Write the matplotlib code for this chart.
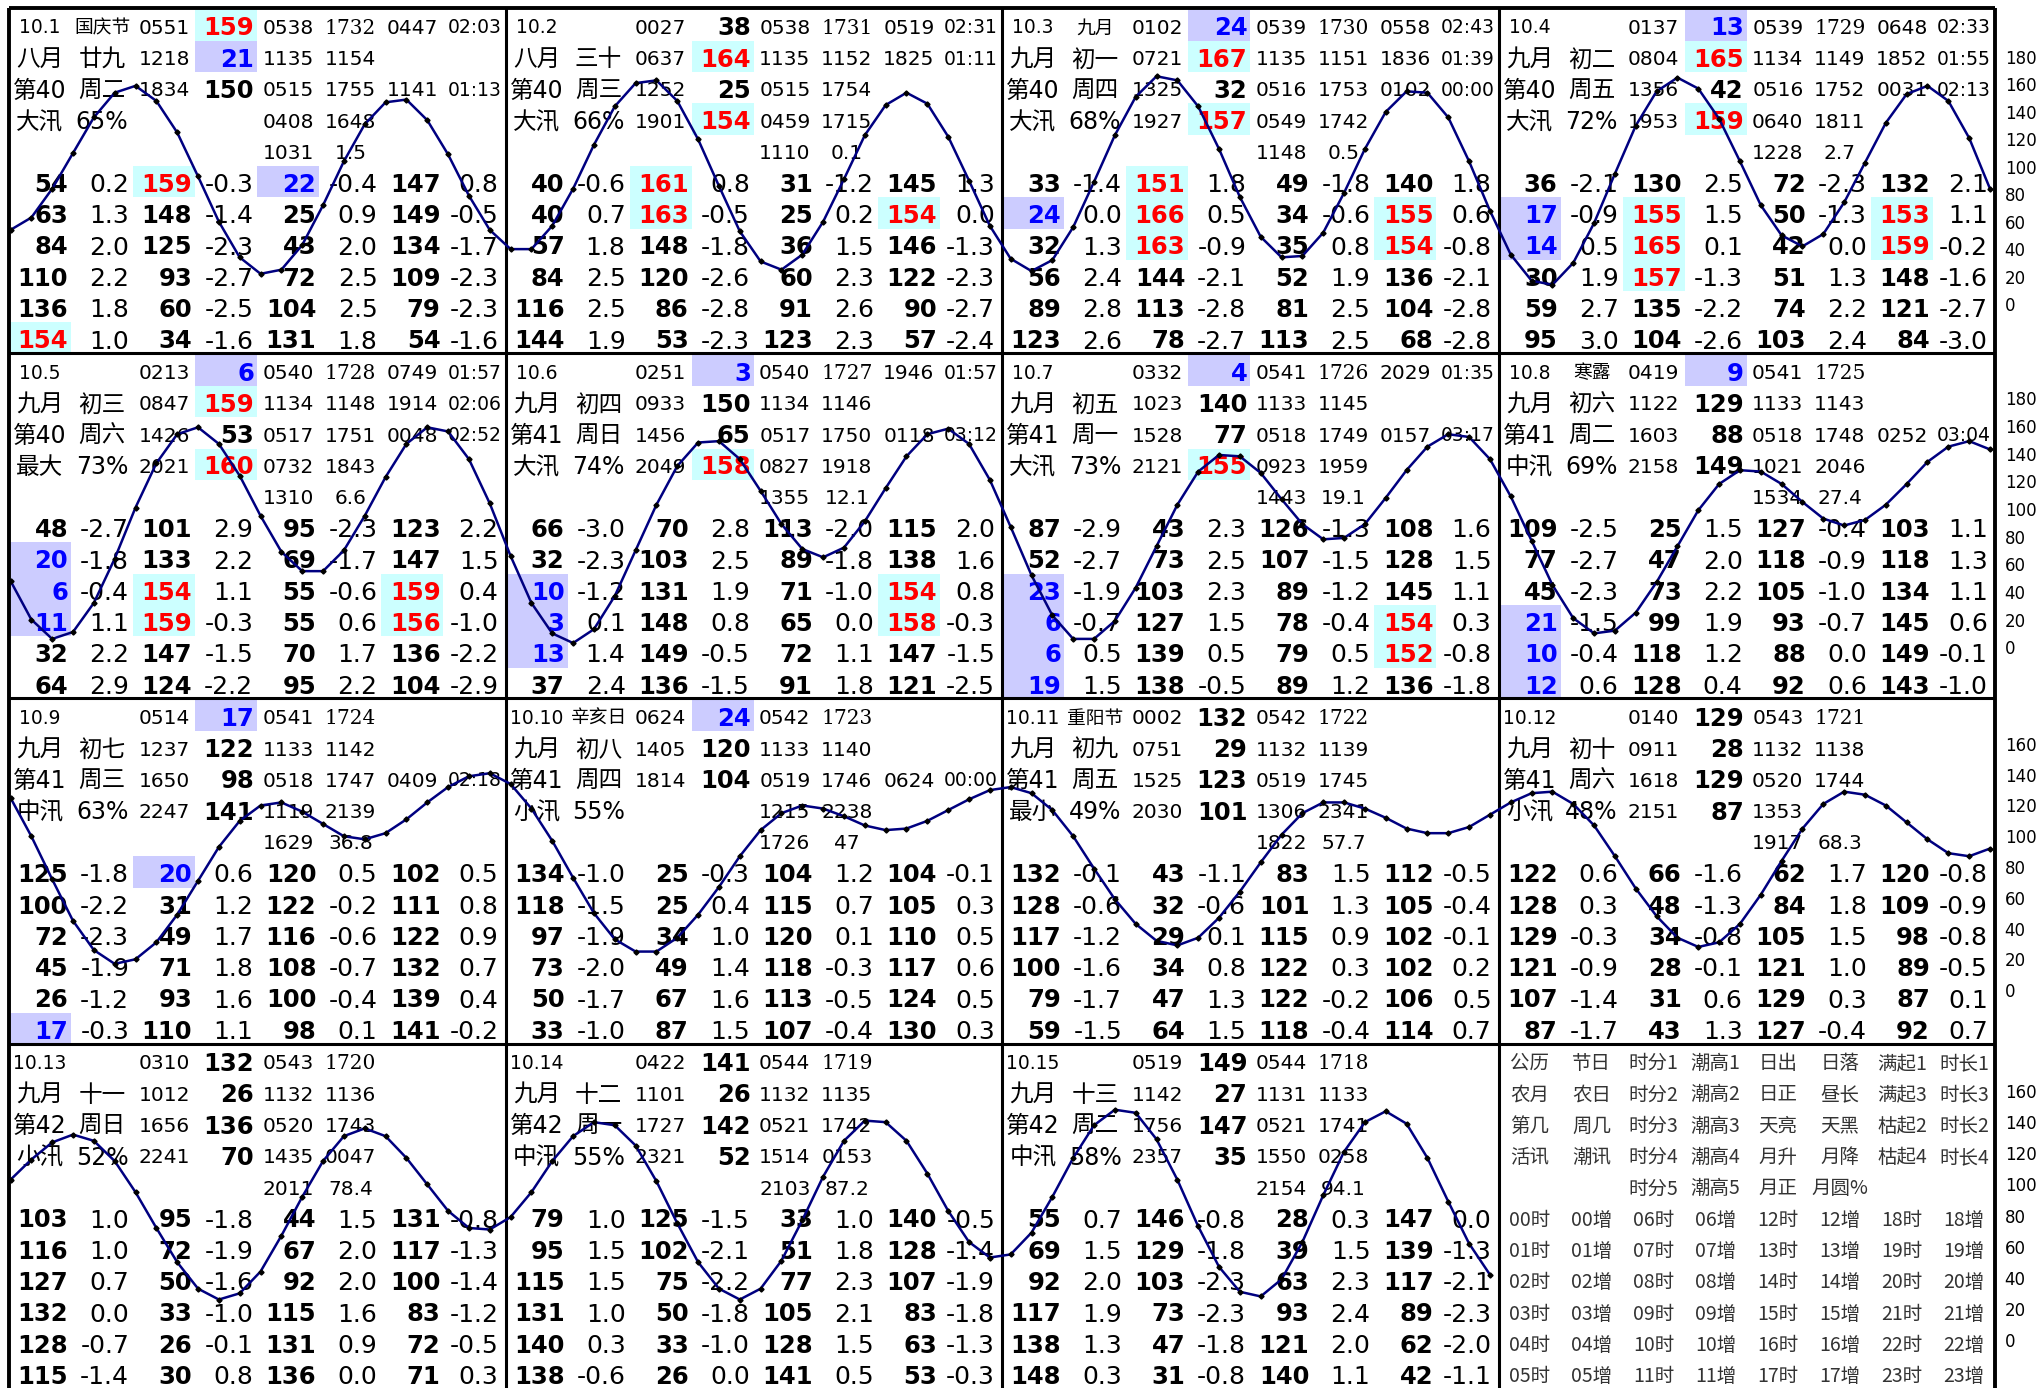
import matplotlib
matplotlib.use("Agg")
import matplotlib.pyplot as plt
from matplotlib.patches import Rectangle

# ---- day header fields (10.1 .. 10.15) ----
dates = ["10.1", "10.2", "10.3", "10.4", "10.5", "10.6", "10.7", "10.8",
         "10.9", "10.10", "10.11", "10.12", "10.13", "10.14", "10.15"]
festivals = ["国庆节", "", "九月", "", "", "", "", "寒露", "", "辛亥日", "重阳节", "", "", "", ""]
lunar_months = ["八月", "八月"] + ["九月"] * 13
lunar_days = ["廿九", "三十", "初一", "初二", "初三", "初四", "初五", "初六",
              "初七", "初八", "初九", "初十", "十一", "十二", "十三"]
weeks = ["第40"] * 5 + ["第41"] * 7 + ["第42"] * 3
weekdays = ["周二", "周三", "周四", "周五", "周六", "周日", "周一", "周二",
            "周三", "周四", "周五", "周六", "周日", "周一", "周二"]
tide_names = ["大汛", "大汛", "大汛", "大汛", "最大", "大汛", "大汛", "中汛",
              "中汛", "小汛", "最小", "小汛", "小汛", "中汛", "中汛"]
tide_pcts = ["65%", "66%", "68%", "72%", "73%", "74%", "73%", "69%",
             "63%", "55%", "49%", "48%", "52%", "55%", "58%"]

tide_times = [["0551", "1218", "1834"], ["0027", "0637", "1252", "1901"],
              ["0102", "0721", "1325", "1927"], ["0137", "0804", "1356", "1953"],
              ["0213", "0847", "1426", "2021"], ["0251", "0933", "1456", "2049"],
              ["0332", "1023", "1528", "2121"], ["0419", "1122", "1603", "2158"],
              ["0514", "1237", "1650", "2247"], ["0624", "1405", "1814"],
              ["0002", "0751", "1525", "2030"], ["0140", "0911", "1618", "2151"],
              ["0310", "1012", "1656", "2241"], ["0422", "1101", "1727", "2321"],
              ["0519", "1142", "1756", "2357"]]
tide_levels = [[159, 21, 150], [38, 164, 25, 154], [24, 167, 32, 157], [13, 165, 42, 159],
               [6, 159, 53, 160], [3, 150, 65, 158], [4, 140, 77, 155], [9, 129, 88, 149],
               [17, 122, 98, 141], [24, 120, 104], [132, 29, 123, 101], [129, 28, 129, 87],
               [132, 26, 136, 70], [141, 26, 142, 52], [149, 27, 147, 35]]

sunrise = ["0538", "0538", "0539", "0539", "0540", "0540", "0541", "0541",
           "0541", "0542", "0542", "0543", "0543", "0544", "0544"]
sunset = ["1732", "1731", "1730", "1729", "1728", "1727", "1726", "1725",
          "1724", "1723", "1722", "1721", "1720", "1719", "1718"]
noon = ["1135", "1135", "1135", "1134", "1134", "1134", "1133", "1133",
        "1133", "1133", "1132", "1132", "1132", "1132", "1131"]
day_len = ["1154", "1152", "1151", "1149", "1148", "1146", "1145", "1143",
           "1142", "1140", "1139", "1138", "1136", "1135", "1133"]
dawn = ["0515", "0515", "0516", "0516", "0517", "0517", "0518", "0518",
        "0518", "0519", "0519", "0520", "0520", "0521", "0521"]
dusk = ["1755", "1754", "1753", "1752", "1751", "1750", "1749", "1748",
        "1747", "1746", "1745", "1744", "1743", "1742", "1741"]
moonrise = ["0408", "0459", "0549", "0640", "0732", "0827", "0923", "1021",
            "1119", "1215", "1306", "1353", "1435", "1514", "1550"]
moonset = ["1648", "1715", "1742", "1811", "1843", "1918", "1959", "2046",
           "2139", "2238", "2341", "", "0047", "0153", "0258"]
transit = ["1031", "1110", "1148", "1228", "1310", "1355", "1443", "1534",
           "1629", "1726", "1822", "1917", "2011", "2103", "2154"]
moon_pct = ["1.5", "0.1", "0.5", "2.7", "6.6", "12.1", "19.1", "27.4",
            "36.8", "47", "57.7", "68.3", "78.4", "87.2", "94.1"]
flood1 = ["0447", "0519", "0558", "0648", "0749", "1946", "2029"] + [""] * 8
dur1 = ["02:03", "02:31", "02:43", "02:33", "01:57", "01:57", "01:35"] + [""] * 8
flood3 = ["", "1825", "1836", "1852", "1914"] + [""] * 10
dur3 = ["", "01:11", "01:39", "01:55", "02:06"] + [""] * 10
ebb2 = ["1141", "", "0102", "0031", "0048", "0118", "0157", "0252", "0409", "0624"] + [""] * 5
dur2 = ["01:13", "", "00:00", "02:13", "02:52", "03:12", "03:17", "03:04", "02:18", "00:00"] + [""] * 5

# ---- hourly tide heights (cm) and hourly change ----
h_1001 = [54, 63, 84, 110, 136, 154, 159, 148, 125, 93, 60, 34, 22, 25, 43, 72, 104, 131, 147, 149, 134, 109, 79, 54]
h_1002 = [40, 40, 57, 84, 116, 144, 161, 163, 148, 120, 86, 53, 31, 25, 36, 60, 91, 123, 145, 154, 146, 122, 90, 57]
h_1003 = [33, 24, 32, 56, 89, 123, 151, 166, 163, 144, 113, 78, 49, 34, 35, 52, 81, 113, 140, 155, 154, 136, 104, 68]
h_1004 = [36, 17, 14, 30, 59, 95, 130, 155, 165, 157, 135, 104, 72, 50, 42, 51, 74, 103, 132, 153, 159, 148, 121, 84]
h_1005 = [48, 20, 6, 11, 32, 64, 101, 133, 154, 159, 147, 124, 95, 69, 55, 55, 70, 95, 123, 147, 159, 156, 136, 104]
h_1006 = [66, 32, 10, 3, 13, 37, 70, 103, 131, 148, 149, 136, 113, 89, 71, 65, 72, 91, 115, 138, 154, 158, 147, 121]
h_1007 = [87, 52, 23, 6, 6, 19, 43, 73, 103, 127, 139, 138, 126, 107, 89, 78, 79, 89, 108, 128, 145, 154, 152, 136]
h_1008 = [109, 77, 45, 21, 10, 12, 25, 47, 73, 99, 118, 128, 127, 118, 105, 93, 88, 92, 103, 118, 134, 145, 149, 143]
h_1009 = [125, 100, 72, 45, 26, 17, 20, 31, 49, 71, 93, 110, 120, 122, 116, 108, 100, 98, 102, 111, 122, 132, 139, 141]
h_1010 = [134, 118, 97, 73, 50, 33, 25, 25, 34, 49, 67, 87, 104, 115, 120, 118, 113, 107, 104, 105, 110, 117, 124, 130]
h_1011 = [132, 128, 117, 100, 79, 59, 43, 32, 29, 34, 47, 64, 83, 101, 115, 122, 122, 118, 112, 105, 102, 102, 106, 114]
h_1012 = [122, 128, 129, 121, 107, 87, 66, 48, 34, 28, 31, 43, 62, 84, 105, 121, 129, 127, 120, 109, 98, 89, 87, 92]
h_1013 = [103, 116, 127, 132, 128, 115, 95, 72, 50, 33, 26, 30, 44, 67, 92, 115, 131, 136, 131, 117, 100, 83, 72, 71]
h_1014 = [79, 95, 115, 131, 140, 138, 125, 102, 75, 50, 33, 26, 33, 51, 77, 105, 128, 141, 140, 128, 107, 83, 63, 53]
h_1015 = [55, 69, 92, 117, 138, 148, 146, 129, 103, 73, 47, 31, 28, 39, 63, 93, 121, 140, 147, 139, 117, 89, 62, 42]

d_1001 = [0.2, 1.3, 2.0, 2.2, 1.8, 1.0, -0.3, -1.4, -2.3, -2.7, -2.5, -1.6, -0.4, 0.9, 2.0, 2.5, 2.5, 1.8, 0.8, -0.5, -1.7, -2.3, -2.3, -1.6]
d_1002 = [-0.6, 0.7, 1.8, 2.5, 2.5, 1.9, 0.8, -0.5, -1.8, -2.6, -2.8, -2.3, -1.2, 0.2, 1.5, 2.3, 2.6, 2.3, 1.3, 0.0, -1.3, -2.3, -2.7, -2.4]
d_1003 = [-1.4, 0.0, 1.3, 2.4, 2.8, 2.6, 1.8, 0.5, -0.9, -2.1, -2.8, -2.7, -1.8, -0.6, 0.8, 1.9, 2.5, 2.5, 1.8, 0.6, -0.8, -2.1, -2.8, -2.8]
d_1004 = [-2.1, -0.9, 0.5, 1.9, 2.7, 3.0, 2.5, 1.5, 0.1, -1.3, -2.2, -2.6, -2.3, -1.3, 0.0, 1.3, 2.2, 2.4, 2.1, 1.1, -0.2, -1.6, -2.7, -3.0]
d_1005 = [-2.7, -1.8, -0.4, 1.1, 2.2, 2.9, 2.9, 2.2, 1.1, -0.3, -1.5, -2.2, -2.3, -1.7, -0.6, 0.6, 1.7, 2.2, 2.2, 1.5, 0.4, -1.0, -2.2, -2.9]
d_1006 = [-3.0, -2.3, -1.2, 0.1, 1.4, 2.4, 2.8, 2.5, 1.9, 0.8, -0.5, -1.5, -2.0, -1.8, -1.0, 0.0, 1.1, 1.8, 2.0, 1.6, 0.8, -0.3, -1.5, -2.5]
d_1007 = [-2.9, -2.7, -1.9, -0.7, 0.5, 1.5, 2.3, 2.5, 2.3, 1.5, 0.5, -0.5, -1.3, -1.5, -1.2, -0.4, 0.5, 1.2, 1.6, 1.5, 1.1, 0.3, -0.8, -1.8]
d_1008 = [-2.5, -2.7, -2.3, -1.5, -0.4, 0.6, 1.5, 2.0, 2.2, 1.9, 1.2, 0.4, -0.4, -0.9, -1.0, -0.7, 0.0, 0.6, 1.1, 1.3, 1.1, 0.6, -0.1, -1.0]
d_1009 = [-1.8, -2.2, -2.3, -1.9, -1.2, -0.3, 0.6, 1.2, 1.7, 1.8, 1.6, 1.1, 0.5, -0.2, -0.6, -0.7, -0.4, 0.1, 0.5, 0.8, 0.9, 0.7, 0.4, -0.2]
d_1010 = [-1.0, -1.5, -1.9, -2.0, -1.7, -1.0, -0.3, 0.4, 1.0, 1.4, 1.6, 1.5, 1.2, 0.7, 0.1, -0.3, -0.5, -0.4, -0.1, 0.3, 0.5, 0.6, 0.5, 0.3]
d_1011 = [-0.1, -0.6, -1.2, -1.6, -1.7, -1.5, -1.1, -0.6, 0.1, 0.8, 1.3, 1.5, 1.5, 1.3, 0.9, 0.3, -0.2, -0.4, -0.5, -0.4, -0.1, 0.2, 0.5, 0.7]
d_1012 = [0.6, 0.3, -0.3, -0.9, -1.4, -1.7, -1.6, -1.3, -0.8, -0.1, 0.6, 1.3, 1.7, 1.8, 1.5, 1.0, 0.3, -0.4, -0.8, -0.9, -0.8, -0.5, 0.1, 0.7]
d_1013 = [1.0, 1.0, 0.7, 0.0, -0.7, -1.4, -1.8, -1.9, -1.6, -1.0, -0.1, 0.8, 1.5, 2.0, 2.0, 1.6, 0.9, 0.0, -0.8, -1.3, -1.4, -1.2, -0.5, 0.3]
d_1014 = [1.0, 1.5, 1.5, 1.0, 0.3, -0.6, -1.5, -2.1, -2.2, -1.8, -1.0, 0.0, 1.0, 1.8, 2.3, 2.1, 1.5, 0.5, -0.5, -1.4, -1.9, -1.8, -1.3, -0.3]
d_1015 = [0.7, 1.5, 2.0, 1.9, 1.3, 0.3, -0.8, -1.8, -2.3, -2.3, -1.8, -0.8, 0.3, 1.5, 2.3, 2.4, 2.0, 1.1, 0.0, -1.3, -2.1, -2.3, -2.0, -1.1]

heights = [h_1001, h_1002, h_1003, h_1004, h_1005, h_1006, h_1007, h_1008,
           h_1009, h_1010, h_1011, h_1012, h_1013, h_1014, h_1015]
changes = [d_1001, d_1002, d_1003, d_1004, d_1005, d_1006, d_1007, d_1008,
           d_1009, d_1010, d_1011, d_1012, d_1013, d_1014, d_1015]

legend_rows = [["公历", "节日", "时分1", "潮高1", "日出", "日落", "满起1", "时长1"],
               ["农月", "农日", "时分2", "潮高2", "日正", "昼长", "满起3", "时长3"],
               ["第几", "周几", "时分3", "潮高3", "天亮", "天黑", "枯起2", "时长2"],
               ["活讯", "潮讯", "时分4", "潮高4", "月升", "月降", "枯起4", "时长4"],
               ["", "", "时分5", "潮高5", "月正", "月圆%", "", ""]]

# per-row right axis: pixel of zero below row top, pixels per cm, top tick
row_zero = [296, 294, 291.6, 296.4]
row_scale = [1.372, 1.383, 1.5375, 1.556]
row_top_tick = [180, 180, 160, 160]

W, H = 2039, 1388
fig = plt.figure(figsize=(W / 100, H / 100), dpi=100)
base = fig.add_axes([0, 0, 1, 1])
base.set_xlim(0, W)
base.set_ylim(H, 0)
base.axis("off")

PX0, PW = 9, 496.5
PY0, PH = 8, 345.2
RH = 31.3
CW = PW / 8
CJK = ["DejaVu Sans", "Noto Sans CJK SC"]


def put(px, py, row, col, s, size, align="center", weight="normal",
        color="black", family=CJK, pad=3):
    if s == "":
        return
    c = py + 1.4 + (row + 0.5) * RH
    yb = c + 0.36 * size * 100 / 72 + 1.5
    if align == "center":
        x = px + (col + 0.5) * CW
    else:
        x = px + (col + 1) * CW - pad - (3 if col == 7 else 0)
    base.text(x, yb, s, ha=align, va="baseline", fontsize=size,
              fontweight=weight, color=color, family=family, zorder=3)


def shade(px, py, row, col, value):
    if value > 150:
        face, ink = "#ccffff", "#ff0000"
    elif value < 25:
        face, ink = "#ccccff", "#0000ff"
    else:
        return "black"
    base.add_patch(Rectangle((px + col * CW, py + 1.4 + row * RH), CW, RH,
                             facecolor=face, edgecolor="none", zorder=1))
    return ink


for i in range(len(dates)):
    r, c = divmod(i, 4)
    px = PX0 + c * PW
    py = PY0 + r * PH

    put(px, py, 0, 0, dates[i], 13.5)
    put(px, py, 0, 1, festivals[i], 13.5)
    put(px, py, 1, 0, lunar_months[i], 17)
    put(px, py, 1, 1, lunar_days[i], 17)
    put(px, py, 2, 0, weeks[i], 17)
    put(px, py, 2, 1, weekdays[i], 17)
    put(px, py, 3, 0, tide_names[i], 17)
    put(px, py, 3, 1, tide_pcts[i], 17)

    for k, (t, lv) in enumerate(zip(tide_times[i], tide_levels[i])):
        put(px, py, k, 2, t, 14.5)
        ink = shade(px, py, k, 3, lv)
        put(px, py, k, 3, str(lv), 17.5, "right", "bold", ink)

    put(px, py, 0, 4, sunrise[i], 14.5)
    put(px, py, 0, 5, sunset[i], 14.5, family=["DejaVu Serif"])
    put(px, py, 1, 4, noon[i], 14.5)
    put(px, py, 1, 5, day_len[i], 14.5)
    put(px, py, 2, 4, dawn[i], 14.5)
    put(px, py, 2, 5, dusk[i], 14.5)
    put(px, py, 3, 4, moonrise[i], 14.5)
    put(px, py, 3, 5, moonset[i], 14.5)
    put(px, py, 4, 4, transit[i], 14.5)
    put(px, py, 4, 5, moon_pct[i], 14.5)
    put(px, py, 0, 6, flood1[i], 14.5)
    put(px, py, 0, 7, dur1[i], 13.5)
    put(px, py, 1, 6, flood3[i], 14.5)
    put(px, py, 1, 7, dur3[i], 13.5)
    put(px, py, 2, 6, ebb2[i], 14.5)
    put(px, py, 2, 7, dur2[i], 13.5)

    for hr, (v, dv) in enumerate(zip(heights[i], changes[i])):
        p, q = divmod(hr, 6)
        row = 5 + q
        ink = shade(px, py, row, 2 * p, v)
        put(px, py, row, 2 * p, str(v), 17.5, "right", "bold", ink)
        put(px, py, row, 2 * p + 1, f"{dv:.1f}", 18, "right", pad=4)

# legend panel
lx, ly = PX0 + 3 * PW, PY0 + 3 * PH
for row, labels in enumerate(legend_rows):
    for col, s in enumerate(labels):
        put(lx, ly, row, col, s, 14, color="#333333", family=["Noto Sans CJK SC"])
for j in range(6):
    labels = []
    for p in range(4):
        labels += [f"{p * 6 + j:02d}时", f"{p * 6 + j:02d}增"]
    for col, s in enumerate(labels):
        put(lx, ly, 5 + j, col, s, 14, color="#333333", family=["Noto Sans CJK SC"])

# grid lines
for k in range(5):
    x = PX0 + k * PW
    base.plot([x, x], [PY0, H + 5], color="black", lw=2.8 if k in (0, 4) else 2.2,
              zorder=4, solid_capstyle="butt")
for k in range(4):
    y = PY0 + k * PH
    base.plot([PX0, PX0 + 4 * PW], [y, y], color="black", lw=2.8 if k == 0 else 2.2,
              zorder=4, solid_capstyle="butt")

# tide curves, one axes per row of panels
first_x, last_x = 10.5, 1990
step = (last_x - first_x) / 95
for r in range(4):
    series = []
    for day in heights[r * 4:(r + 1) * 4]:
        series += day
    top = PY0 + r * PH
    ax = fig.add_axes([PX0 / W, 1 - (top + PH) / H, 4 * PW / W, PH / H])
    ax.patch.set_alpha(0)
    for sp in ax.spines.values():
        sp.set_visible(False)
    ax.plot(range(len(series)), series, color="#000080", lw=1.8,
            marker="D", ms=2.6, mfc="black", mec="black", zorder=5)
    ax.set_xlim(-(first_x - PX0) / step, (PX0 + 4 * PW - first_x) / step)
    z, s = row_zero[r], row_scale[r]
    ax.set_ylim(-(PH - z) / s, z / s)
    ax.set_xticks([])
    ax.set_yticks(list(range(0, row_top_tick[r] + 1, 20)))
    ax.yaxis.tick_right()
    ax.tick_params(axis="y", length=0, pad=7, labelsize=12)

fig.savefig("out.png", dpi=100)
